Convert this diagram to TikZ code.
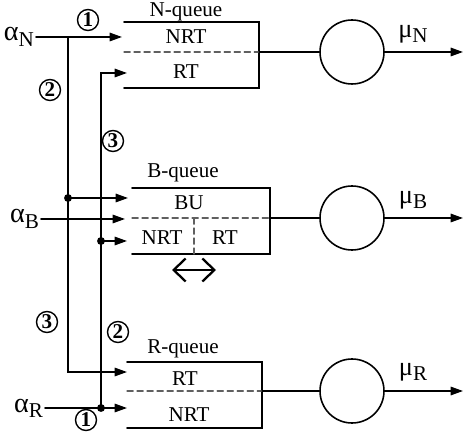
\documentclass[tikz,border=0pt]{standalone}
\usepackage{fontspec}
\setmainfont{Liberation Serif}
\usetikzlibrary{arrows.meta}

\newcommand{\rate}[2]{#1\raisebox{-0.45ex}{\fontsize{12}{12}\selectfont #2}}

\begin{document}
\begin{tikzpicture}[>={Triangle[length=7pt,width=4.8pt]},font=\fontsize{12}{14}\selectfont,line cap=round,
  flow/.style={->,line width=0.9pt},
  queue/.style={line width=0.9pt},
  slot/.style={dash pattern=on 3.5pt off 2.2pt,gray!75!black,line width=0.7pt},
  server/.style={circle,draw,line width=0.9pt,minimum size=1.28cm,inner sep=0pt},
  path no/.style={circle,draw,line width=0.8pt,minimum size=0.42cm,inner sep=0pt,font=\fontsize{12}{12}\selectfont\bfseries},
  dot/.style={circle,fill,inner sep=0pt,minimum size=4.5pt}]
\useasboundingbox (0,0) rectangle (9.3,8.72);

% queues (open on the left)
\draw[queue] (2.48,8.28) -| (5.18,6.96) -- (2.48,6.96);
\draw[slot] (2.48,7.68) -- (5.18,7.68);
\draw[queue] (2.64,4.96) -| (5.40,3.64) -- (2.64,3.64);
\draw[slot] (2.64,4.36) -- (5.40,4.36);
\draw[slot] (3.88,4.36) -- (3.88,3.64);
\draw[queue] (2.54,1.48) -| (5.24,0.16) -- (2.54,0.16);
\draw[slot] (2.54,0.90) -- (5.24,0.90);

\node (nq) at (3.72,8.48) {N-queue};
\node (nnrt) at (3.72,7.98) {NRT};
\node (nrt) at (3.72,7.28) {RT};
\node (bq) at (3.66,5.26) {B-queue};
\node (bbu) at (3.78,4.66) {BU};
\node (bnrt) at (3.24,3.96) {NRT};
\node (brt) at (4.50,3.96) {RT};
\node (rq) at (3.66,1.74) {R-queue};
\node (rrt) at (3.70,1.14) {RT};
\node (rnrt) at (3.78,0.42) {NRT};
\draw[{Straight Barb[length=2.4mm,width=4.6mm]}-{Straight Barb[length=2.4mm,width=4.6mm]},line width=1.3pt] (3.44,3.32) -- (4.32,3.32);

% servers
\coordinate (nqo) at (5.18,7.68);
\coordinate (bqo) at (5.40,4.36);
\coordinate (rqo) at (5.24,0.90);
\node[server] (sn) at (7.04,7.68) {};
\node[server] (sb) at (7.04,4.36) {};
\node[server] (sr) at (7.04,0.90) {};
\coordinate (on) at (9.26,7.68);
\coordinate (ob) at (9.26,4.36);
\coordinate (or) at (9.26,0.90);
\draw[line width=0.8pt] (nqo) -- (sn);
\draw[line width=0.8pt] (bqo) -- (sb);
\draw[line width=0.8pt] (rqo) -- (sr);
\draw[flow] (sn) -- (on);
\draw[flow] (sb) -- (ob);
\draw[flow] (sr) -- (or);
\node (mun) at (8.26,8.04) {\rate{\fontsize{15}{15}\selectfont μ}{N}};
\node (mub) at (8.26,4.72) {\rate{\fontsize{15}{15}\selectfont μ}{B}};
\node (mur) at (8.26,1.28) {\rate{\fontsize{15}{15}\selectfont μ}{R}};

% arrivals
\node[anchor=base east,inner sep=1pt] (an) at (0.72,7.90) {\rate{\fontsize{16}{16}\selectfont α}{N}};
\node[anchor=base east,inner sep=1pt] (ab) at (0.82,4.26) {\rate{\fontsize{16}{16}\selectfont α}{B}};
\node[anchor=base east,inner sep=1pt] (ar) at (0.90,0.48) {\rate{\fontsize{16}{16}\selectfont α}{R}};

\coordinate (nin1) at (2.44,7.98);
\coordinate (nin2) at (2.54,7.26);
\coordinate (bin1) at (2.56,4.76);
\coordinate (bin2) at (2.50,4.34);
\coordinate (bin3) at (2.54,3.90);
\coordinate (rin1) at (2.54,1.28);
\coordinate (rin2) at (2.54,0.56);
\coordinate (ja) at (1.36,7.98);
\node[dot] (jb) at (1.36,4.76) {};
\node[dot] (jc) at (2.02,3.90) {};
\node[dot] (jd) at (2.02,0.56) {};

\draw[flow] (an.east |- nin1) -- (nin1);
\draw[flow] (ja) |- (rin1);
\draw[flow] (jb.center) -- (bin1);
\draw[flow] (ab.east |- bin2) -- (bin2);
\draw[flow] (jd.center) |- (nin2);
\draw[flow] (jc.center) -- (bin3);
\draw[flow] (ar.east |- rin2) -- (rin2);

% path numbers
\node[path no] (p1n) at (1.76,8.32) {1};
\node[path no] (p2n) at (1.00,6.92) {2};
\node[path no] (p3n) at (2.26,5.90) {3};
\node[path no] (p3r) at (0.94,2.28) {3};
\node[path no] (p2r) at (2.36,2.08) {2};
\node[path no] (p1r) at (1.72,0.32) {1};
\end{tikzpicture}
\end{document}
